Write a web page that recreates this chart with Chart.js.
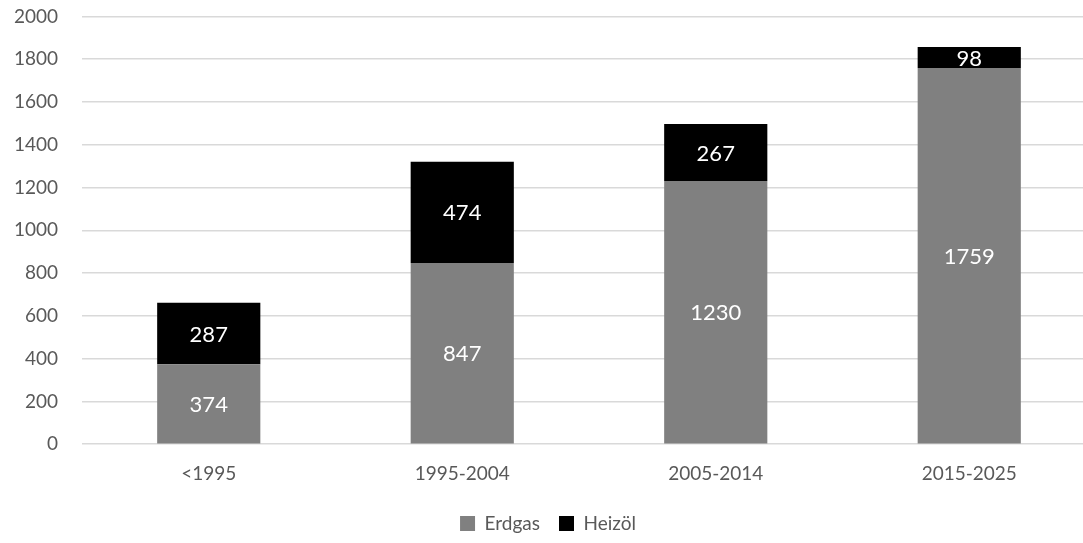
<!DOCTYPE html>
<html>
<head>
<meta charset="utf-8">
<script src="https://cdn.jsdelivr.net/npm/chart.js@4.4.0/dist/chart.umd.min.js"></script>
<style>
  html, body { margin: 0; padding: 0; background: #fff; overflow: hidden; }
  #wrap { width: 1096px; height: 562px; margin-top: -19px; }
</style>
</head>
<body>
<div id="wrap"><canvas id="chart"></canvas></div>
<script>
// ── Data ──────────────────────────────────────────────────────────────────────
const categories = ['<1995', '1995-2004', '2005-2014', '2015-2025'];
const erdgas     = [374, 847, 1230, 1759];
const heizoel    = [287, 474, 267, 98];
const yTicks     = [0, 200, 400, 600, 800, 1000, 1200, 1400, 1600, 1800, 2000];

const FONT = 'Lato, "Open Sans", sans-serif';

// white value labels centred in each segment
const valueLabels = {
  id: 'valueLabels',
  afterDatasetsDraw(chart) {
    const { ctx } = chart;
    ctx.save();
    ctx.fillStyle = '#ffffff';
    ctx.font = `22px ${FONT}`;
    ctx.textAlign = 'center';
    ctx.textBaseline = 'middle';
    chart.data.datasets.forEach((ds, di) => {
      chart.getDatasetMeta(di).data.forEach((bar, i) => {
        const { x, y, base } = bar.getProps(['x', 'y', 'base'], true);
        ctx.fillText(String(ds.data[i]), x, (y + base) / 2 + 1);
      });
    });
    ctx.restore();
  },
};

new Chart(document.getElementById('chart'), {
  type: 'bar',
  data: {
    labels: categories,
    datasets: [
      { label: 'Erdgas', data: erdgas,  backgroundColor: '#808080', barPercentage: 0.407, categoryPercentage: 1 },
      { label: 'Heizöl', data: heizoel, backgroundColor: '#000000', barPercentage: 0.407, categoryPercentage: 1 },
    ],
  },
  plugins: [valueLabels],
  options: {
    responsive: true,
    maintainAspectRatio: false,
    animation: false,
    layout: { padding: { top: 0, left: 0, right: 0, bottom: 0 } },
    plugins: {
      tooltip: { enabled: false },
      legend: {
        position: 'bottom',
        labels: {
          boxWidth: 15, boxHeight: 15, padding: 19,
          color: '#595959',
          font: { family: FONT, size: 19 },
          generateLabels: chart => chart.data.datasets.map((ds, i) => ({
            text: ds.label, fillStyle: ds.backgroundColor, strokeStyle: ds.backgroundColor,
            lineWidth: 0, datasetIndex: i, fontColor: '#595959',
          })),
        },
      },
    },
    scales: {
      x: {
        stacked: true,
        grid: { display: false },
        border: { display: false },
        ticks: { color: '#595959', font: { family: FONT, size: 19 }, padding: 10 },
      },
      y: {
        stacked: true,
        min: 0, max: 2000,
        afterBuildTicks: axis => { axis.ticks = yTicks.map(v => ({ value: v })); },
        afterFit: axis => { axis.width = 82; },
        grid: { color: '#d9d9d9', lineWidth: 1.5, drawTicks: false },
        border: { display: false },
        ticks: { color: '#595959', font: { family: FONT, size: 19 }, padding: 24, callback: v => String(v) },
      },
    },
  },
});
</script>
</body>
</html>
